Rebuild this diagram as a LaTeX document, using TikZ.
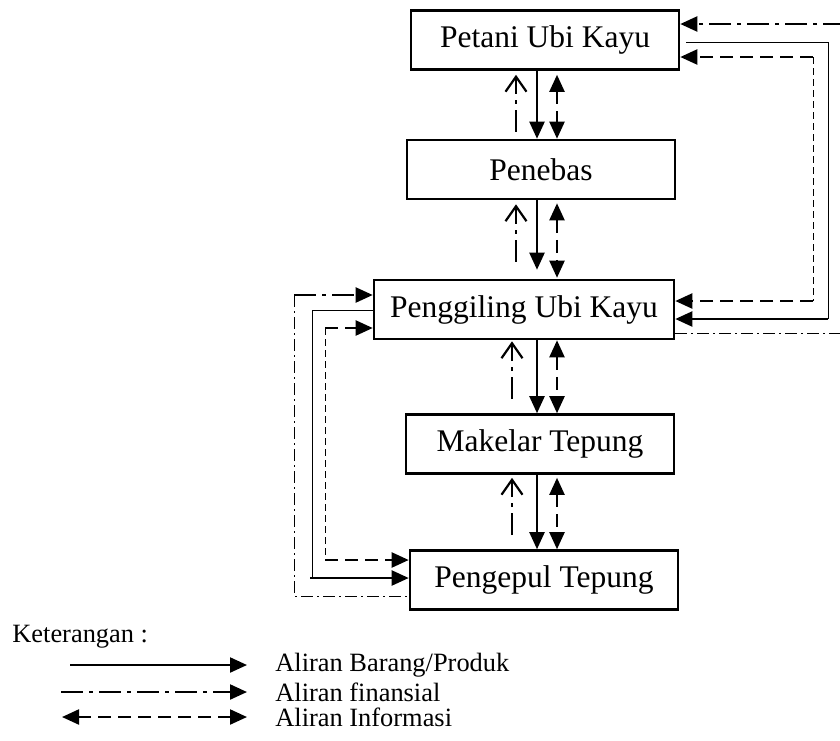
\documentclass[tikz,border=0pt]{standalone}
\usepackage{fontspec}
\setmainfont{Liberation Serif}
\usetikzlibrary{arrows.meta,calc}
\begin{document}
\begin{tikzpicture}[x=0.5pt,y=-0.5pt,
  >={Triangle[length=8.5pt,width=7.5pt]},
  box/.style={draw,line width=1.3pt,minimum height=29.5pt,inner sep=0pt,font=\fontsize{15.75}{18}\selectfont},
  legtext/.style={anchor=west,inner sep=0pt,font=\fontsize{13.2}{15}\selectfont},
  goods/.style={line width=1.1pt},
  goodsthin/.style={line width=0.5pt},
  fin/.style={line width=1.1pt,dash pattern=on 11pt off 3pt on 2pt off 3pt},
  finthin/.style={line width=0.5pt,dash pattern=on 6pt off 2pt on 1pt off 2pt},
  info/.style={line width=1.1pt,dash pattern=on 6.5pt off 3.5pt},
  infothin/.style={line width=0.5pt,dash pattern=on 3.5pt off 2pt},
  openup/.style={-{Straight Barb[length=7.5pt,width=10.5pt,line width=1.1pt]}}
]
\useasboundingbox (0,0) rectangle (840,740);

% boxes
\node[box,minimum width=134pt] (pt) at (545,40) {Petani Ubi Kayu};
\node[box,minimum width=134pt] (pb) at (541,169.5) {Penebas};
\node[box,minimum width=150pt] (pg) at (524,309.5) {Penggiling Ubi Kayu};
\node[box,minimum width=134pt] (mk) at (540,444) {Makelar Tepung};
\node[box,minimum width=134pt] (pp) at (544,580) {Pengepul Tepung};

% columns
\coordinate (fA) at (516,0);
\coordinate (fB) at (512,0);
\coordinate (sC) at (537,0);
\coordinate (dA) at (557,0);

% Petani - Penebas
\draw[fin,openup] ($(fA |- pb.north)+(0,-7)$) -- ($(fA |- pt.south)+(0,4)$);
\draw[goods,->] (sC |- pt.south) -- (sC |- pb.north);
\draw[info,<->] ($(dA |- pt.south)+(0,4)$) -- (dA |- pb.north);

% Penebas - Penggiling
\draw[fin,openup] ($(fA |- pg.north)+(0,-17)$) -- ($(fA |- pb.south)+(0,4)$);
\draw[goods,->] (sC |- pb.south) -- ($(sC |- pg.north)+(0,-9)$);
\draw[info,<->] ($(dA |- pb.south)+(0,3)$) -- ($(dA |- pg.north)+(0,-1)$);

% Penggiling - Makelar
\draw[fin,openup] ($(fB |- mk.north)+(0,-14)$) -- ($(fB |- pg.south)+(0,1)$);
\draw[goods,->] (sC |- pg.south) -- (sC |- mk.north);
\draw[info,<->] (dA |- pg.south) -- (dA |- mk.north);

% Makelar - Pengepul
\draw[fin,openup] ($(fB |- pp.north)+(0,-14)$) -- ($(fB |- mk.south)+(0,3)$);
\draw[goods,->] (sC |- mk.south) -- (sC |- pp.north);
\draw[info,<->] ($(dA |- mk.south)+(0,3)$) -- (dA |- pp.north);

% right loops
\coordinate (rf) at (845,24);
\coordinate (rf2) at (845,333);
\draw[fin,->] (rf) -- (rf -| pt.east);
\draw[finthin] (rf2 -| pg.east) -- (rf2) -- (rf);

\coordinate (rs) at (828,42);
\coordinate (rs2) at (828,319);
\draw[goodsthin] ($(rs -| pt.east)+(6,0)$) -- (rs) -- (rs2);
\draw[goods,->] (rs2) -- (rs2 -| pg.east);

\coordinate (rd) at (813,57);
\coordinate (rd2) at (813,301);
\draw[info,->] (rd) -- (rd -| pt.east);
\draw[infothin] (rd) -- (rd2);
\draw[info,->] (rd2) -- (rd2 -| pg.east);

% left loops
\coordinate (lf) at (294,295);
\coordinate (lf2) at (294,596);
\draw[fin,->] (lf) -- (lf -| pg.west);
\draw[finthin] (lf) -- (lf2) -- (lf2 -| pp.west);

\coordinate (ls) at (312,310);
\coordinate (ls2) at (312,578);
\draw[goodsthin] (ls -| pg.west) -- (ls) -- (ls2);
\draw[goods,->] ($(ls2)+(-2,0)$) -- (ls2 -| pp.west);

\coordinate (ld) at (325,328);
\coordinate (ld2) at (325,560);
\draw[info,->] (ld) -- (ld -| pg.west);
\draw[infothin] (ld) -- (ld2);
\draw[info,->] (ld2) -- (ld2 -| pp.west);

% legend
\node[legtext] (ket) at (12,637) {Keterangan :};
\coordinate (l1a) at (70,665);
\coordinate (l1b) at (247,665);
\coordinate (l2a) at (61,692);
\coordinate (l2b) at (247,692);
\coordinate (l3a) at (62,717);
\coordinate (l3b) at (247,717);
\draw[goods,->] (l1a) -- (l1b);
\draw[fin,->] (l2a) -- (l2b);
\draw[info,<->] (l3a) -- (l3b);
\node[legtext] (t1) at (275,665) {Aliran Barang/Produk};
\node[legtext] (t2) at (275,692) {Aliran finansial};
\node[legtext] (t3) at (275,717) {Aliran Informasi};
\end{tikzpicture}
\end{document}
